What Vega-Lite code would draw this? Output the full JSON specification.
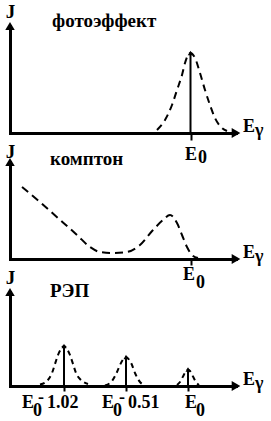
{
  "$schema": "https://vega.github.io/schema/vega-lite/v6.json",
  "background": "white",
  "padding": {"left": 5, "top": 2, "right": 0, "bottom": 0},
  "datasets": {
    "photo": [{"e":147,"j":3},{"e":155,"j":13},{"e":162,"j":28},{"e":167,"j":43},{"e":172,"j":58},{"e":175,"j":70},{"e":178,"j":78},{"e":180.5,"j":80},{"e":185,"j":75},{"e":190,"j":60},{"e":195,"j":43},{"e":200,"j":28},{"e":205,"j":15},{"e":212,"j":5},{"e":217,"j":2}],
    "photoLine": [{"e":180.5,"j":80}],
    "compton": [{"e":12,"j":72},{"e":30,"j":57},{"e":48,"j":41},{"e":67,"j":24},{"e":80,"j":12},{"e":90,"j":7},{"e":103,"j":6},{"e":117,"j":7},{"e":130,"j":14},{"e":143,"j":29},{"e":153,"j":39},{"e":160,"j":44},{"e":167,"j":36},{"e":172,"j":24},{"e":177,"j":12},{"e":182,"j":4},{"e":188,"j":1}],
    "pair": [
      {"p":1,"e":30,"j":1.5},{"p":1,"e":37,"j":5},{"p":1,"e":42,"j":13},{"p":1,"e":45,"j":22},{"p":1,"e":48,"j":31},{"p":1,"e":51,"j":37},{"p":1,"e":54,"j":40},{"p":1,"e":57,"j":37},{"p":1,"e":60,"j":31},{"p":1,"e":63,"j":22},{"p":1,"e":66,"j":13},{"p":1,"e":71,"j":6},{"p":1,"e":78,"j":2},
      {"p":2,"e":95,"j":0.5},{"p":2,"e":102,"j":5},{"p":2,"e":107,"j":14},{"p":2,"e":110,"j":21},{"p":2,"e":113,"j":26.5},{"p":2,"e":116,"j":29},{"p":2,"e":119,"j":26.5},{"p":2,"e":122,"j":21},{"p":2,"e":125,"j":13},{"p":2,"e":130,"j":4},{"p":2,"e":134,"j":1},
      {"p":3,"e":167,"j":1},{"p":3,"e":170,"j":4},{"p":3,"e":173,"j":9.5},{"p":3,"e":176,"j":15},{"p":3,"e":178,"j":16.5},{"p":3,"e":180,"j":15},{"p":3,"e":183,"j":9.5},{"p":3,"e":186,"j":4},{"p":3,"e":189,"j":1}
    ],
    "pairLines": [{"e":54,"j":40},{"e":116,"j":29},{"e":178,"j":16.5}],
    "t1": [{"e":42,"t":"фотоэффект"}],
    "t2": [{"e":40,"t":"комптон"}],
    "t3": [{"e":40,"t":"РЭП"}],
    "axE": [{"e":233,"t":"E"}],
    "axG": [{"e":245,"t":"γ"}],
    "p1E": [{"e":175,"t":"E"}],
    "p1sub": [{"e":188,"t":"0"}],
    "p2E": [{"e":173,"t":"E"}],
    "p2sub": [{"e":186,"t":"0"}],
    "p3E": [{"e":12,"t":"E"},{"e":92,"t":"E"},{"e":175,"t":"E"}],
    "p3sub": [{"e":23,"t":"0"},{"e":103,"t":"0"},{"e":186,"t":"0"}],
    "p3minus": [{"e":28,"t":"-"},{"e":109,"t":"-"}],
    "p3num": [{"e":37,"t":"1.02"},{"e":118,"t":"0.51"}],
    "one": [{}]
  },
  "spacing": 29,
  "bounds": "flush",
  "vconcat": [
    {
      "width": 226, "height": 107,
      "layer": [
        {"data": {"name": "photo"},
         "mark": {"type": "line", "strokeDash": [7, 5], "strokeWidth": 2, "color": "black", "interpolate": "monotone"},
         "encoding": {
           "x": {"field": "e", "type": "quantitative", "scale": {"domain": [0, 226], "nice": false, "zero": false}, "axis": {"values": [180.5], "ticks": true, "tickSize": 7, "title": null}},
           "y": {"field": "j", "type": "quantitative", "scale": {"domain": [0, 107], "nice": false}, "axis": {"title": "J", "titleY": -9}}
         }},
        {"data": {"name": "photoLine"},
         "mark": {"type": "rule", "strokeWidth": 2, "color": "black"},
         "encoding": {"x": {"field": "e", "type": "quantitative"}, "y": {"field": "j", "type": "quantitative"}, "y2": {"datum": 0}}},
        {"data": {"name": "photoLine"},
         "mark": {"type": "point", "shape": "triangle-up", "filled": true, "size": 30, "opacity": 1, "color": "black"},
         "encoding": {"x": {"field": "e", "type": "quantitative"}, "y": {"field": "j", "type": "quantitative"}}},
        {"data": {"name": "one"},
         "mark": {"type": "point", "shape": "triangle-right", "filled": true, "size": 100, "opacity": 1, "color": "black"},
         "encoding": {"x": {"datum": 226}, "y": {"datum": 0}}},
        {"data": {"name": "one"},
         "mark": {"type": "point", "shape": "triangle-up", "filled": true, "size": 90, "opacity": 1, "color": "black"},
         "encoding": {"x": {"datum": 0}, "y": {"datum": 107}}},
        {"data": {"name": "t1"}, "mark": {"type": "text", "dy": 1, "fontSize": 19},
         "encoding": {"x": {"field": "e", "type": "quantitative"}, "y": {"datum": 107}, "text": {"field": "t"}}},
        {"data": {"name": "axE"}, "mark": {"type": "text", "dy": -1},
         "encoding": {"x": {"field": "e", "type": "quantitative"}, "y": {"datum": 0}, "text": {"field": "t"}}},
        {"data": {"name": "axG"}, "mark": {"type": "text", "dy": 3},
         "encoding": {"x": {"field": "e", "type": "quantitative"}, "y": {"datum": 0}, "text": {"field": "t"}}},
        {"data": {"name": "p1E"}, "mark": {"type": "text", "dy": 27},
         "encoding": {"x": {"field": "e", "type": "quantitative"}, "y": {"datum": 0}, "text": {"field": "t"}}},
        {"data": {"name": "p1sub"}, "mark": {"type": "text", "dy": 30},
         "encoding": {"x": {"field": "e", "type": "quantitative"}, "y": {"datum": 0}, "text": {"field": "t"}}}
      ]
    },
    {
      "spacing": 33,
      "bounds": "flush",
      "vconcat": [
        {
          "width": 226, "height": 97,
          "layer": [
            {"data": {"name": "compton"},
             "mark": {"type": "line", "strokeDash": [8, 5], "strokeWidth": 2, "color": "black", "interpolate": "monotone"},
             "encoding": {
               "x": {"field": "e", "type": "quantitative", "scale": {"domain": [0, 226], "nice": false, "zero": false}, "axis": {"values": [181], "ticks": true, "tickSize": 6, "title": null}},
               "y": {"field": "j", "type": "quantitative", "scale": {"domain": [0, 97], "nice": false}, "axis": {"title": "J", "titleY": -5}}
             }},
            {"data": {"name": "one"},
             "mark": {"type": "point", "shape": "triangle-right", "filled": true, "size": 100, "opacity": 1, "color": "black"},
             "encoding": {"x": {"datum": 226}, "y": {"datum": 0}}},
            {"data": {"name": "one"},
             "mark": {"type": "point", "shape": "triangle-up", "filled": true, "size": 90, "opacity": 1, "color": "black"},
             "encoding": {"x": {"datum": 0}, "y": {"datum": 97}}},
            {"data": {"name": "t2"}, "mark": {"type": "text", "dy": 3, "fontSize": 19},
             "encoding": {"x": {"field": "e", "type": "quantitative"}, "y": {"datum": 97}, "text": {"field": "t"}}},
            {"data": {"name": "axE"}, "mark": {"type": "text", "dy": -1},
             "encoding": {"x": {"field": "e", "type": "quantitative"}, "y": {"datum": 0}, "text": {"field": "t"}}},
            {"data": {"name": "axG"}, "mark": {"type": "text", "dy": 3},
             "encoding": {"x": {"field": "e", "type": "quantitative"}, "y": {"datum": 0}, "text": {"field": "t"}}},
            {"data": {"name": "p2E"}, "mark": {"type": "text", "dy": 21},
             "encoding": {"x": {"field": "e", "type": "quantitative"}, "y": {"datum": 0}, "text": {"field": "t"}}},
            {"data": {"name": "p2sub"}, "mark": {"type": "text", "dy": 29},
             "encoding": {"x": {"field": "e", "type": "quantitative"}, "y": {"datum": 0}, "text": {"field": "t"}}}
          ]
        },
        {
          "width": 226, "height": 94,
          "layer": [
            {"data": {"name": "pair"},
             "mark": {"type": "line", "strokeDash": [5, 4], "strokeWidth": 2, "color": "black", "interpolate": "monotone"},
             "encoding": {
               "x": {"field": "e", "type": "quantitative", "scale": {"domain": [0, 226], "nice": false, "zero": false}, "axis": {"values": [54, 116, 178], "ticks": true, "tickSize": 5, "title": null}},
               "y": {"field": "j", "type": "quantitative", "scale": {"domain": [0, 94], "nice": false}, "axis": {"title": "J", "titleY": -9}},
               "detail": {"field": "p", "type": "nominal"}
             }},
            {"data": {"name": "pairLines"},
             "mark": {"type": "rule", "strokeWidth": 2, "color": "black"},
             "encoding": {"x": {"field": "e", "type": "quantitative"}, "y": {"field": "j", "type": "quantitative"}, "y2": {"datum": 0}}},
            {"data": {"name": "pairLines"},
             "mark": {"type": "point", "shape": "triangle-up", "filled": true, "size": 25, "opacity": 1, "color": "black"},
             "encoding": {"x": {"field": "e", "type": "quantitative"}, "y": {"field": "j", "type": "quantitative"}}},
            {"data": {"name": "one"},
             "mark": {"type": "point", "shape": "triangle-right", "filled": true, "size": 100, "opacity": 1, "color": "black"},
             "encoding": {"x": {"datum": 226}, "y": {"datum": 0}}},
            {"data": {"name": "one"},
             "mark": {"type": "point", "shape": "triangle-up", "filled": true, "size": 90, "opacity": 1, "color": "black"},
             "encoding": {"x": {"datum": 0}, "y": {"datum": 94}}},
            {"data": {"name": "t3"}, "mark": {"type": "text", "dy": 4.5, "fontSize": 19},
             "encoding": {"x": {"field": "e", "type": "quantitative"}, "y": {"datum": 94}, "text": {"field": "t"}}},
            {"data": {"name": "axE"}, "mark": {"type": "text", "dy": -1},
             "encoding": {"x": {"field": "e", "type": "quantitative"}, "y": {"datum": 0}, "text": {"field": "t"}}},
            {"data": {"name": "axG"}, "mark": {"type": "text", "dy": 3},
             "encoding": {"x": {"field": "e", "type": "quantitative"}, "y": {"datum": 0}, "text": {"field": "t"}}},
            {"data": {"name": "p3E"}, "mark": {"type": "text", "dy": 22},
             "encoding": {"x": {"field": "e", "type": "quantitative"}, "y": {"datum": 0}, "text": {"field": "t"}}},
            {"data": {"name": "p3sub"}, "mark": {"type": "text", "dy": 29.5},
             "encoding": {"x": {"field": "e", "type": "quantitative"}, "y": {"datum": 0}, "text": {"field": "t"}}},
            {"data": {"name": "p3minus"}, "mark": {"type": "text", "dy": 16.5},
             "encoding": {"x": {"field": "e", "type": "quantitative"}, "y": {"datum": 0}, "text": {"field": "t"}}},
            {"data": {"name": "p3num"}, "mark": {"type": "text", "dy": 22},
             "encoding": {"x": {"field": "e", "type": "quantitative"}, "y": {"datum": 0}, "text": {"field": "t"}}}
          ]
        }
      ]
    }
  ],
  "config": {
    "view": {"stroke": null},
    "font": "Liberation Serif, Times New Roman, DejaVu Serif, serif",
    "text": {"font": "Liberation Serif, Times New Roman, DejaVu Serif, serif", "fontSize": 18, "fontWeight": "bold", "color": "black", "align": "left", "baseline": "alphabetic"},
    "axis": {"domainColor": "black", "domainWidth": 3, "domainCap": "square", "grid": false, "labels": false, "ticks": false, "tickColor": "black", "tickWidth": 2},
    "axisY": {"titleAngle": 0, "titleX": 0, "titleAlign": "center", "titleBaseline": "alphabetic", "titleFont": "Liberation Serif, Times New Roman, DejaVu Serif, serif", "titleFontSize": 19, "titleFontWeight": "bold", "titleColor": "black", "titlePadding": 0}
  }
}
